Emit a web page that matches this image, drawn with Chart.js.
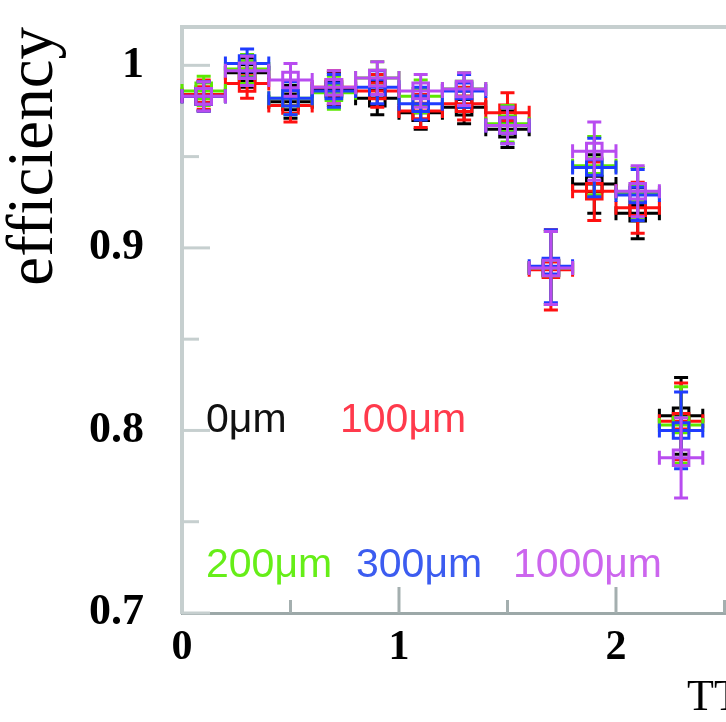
<!DOCTYPE html>
<html>
<head>
<meta charset="utf-8">
<title>efficiency</title>
<script src="https://cdn.jsdelivr.net/npm/chart.js@4.4.1/dist/chart.umd.min.js"></script>
<style>
  html, body { margin: 0; padding: 0; background: #fff; }
  #wrap { width: 726px; height: 722px; position: relative; overflow: hidden; }
</style>
</head>
<body>
<div id="wrap"><canvas id="effChart" width="726" height="722"></canvas></div>
<script>
// Bin centres and half widths
const binCenters = [0.1, 0.3, 0.5, 0.7, 0.9, 1.1, 1.3, 1.5, 1.7, 1.9, 2.1, 2.3];
const binHalfWidth = 0.1;

// Efficiency per offset
const eff0 =    [0.983, 0.996, 0.980, 0.987, 0.982, 0.974, 0.977, 0.965, 0.889, 0.935, 0.919, 0.808];
const eff100 =  [0.984, 0.990, 0.978, 0.988, 0.986, 0.975, 0.979, 0.974, 0.888, 0.931, 0.922, 0.805];
const eff200 =  [0.986, 0.998, 0.982, 0.985, 0.993, 0.983, 0.987, 0.968, 0.889, 0.945, 0.930, 0.803];
const eff300 =  [0.983, 1.001, 0.982, 0.986, 0.988, 0.979, 0.986, 0.967, 0.890, 0.944, 0.929, 0.800];
const eff1000 = [0.983, 0.997, 0.992, 0.988, 0.993, 0.986, 0.987, 0.967, 0.889, 0.953, 0.931, 0.785];

// Statistical errors
const err0 =    [0.008, 0.008, 0.009, 0.009, 0.009, 0.009, 0.009, 0.010, 0.020, 0.016, 0.014, 0.021];
const err100 =  [0.008, 0.008, 0.009, 0.009, 0.009, 0.009, 0.009, 0.011, 0.022, 0.016, 0.014, 0.021];
const err200 =  [0.008, 0.008, 0.009, 0.009, 0.009, 0.009, 0.009, 0.010, 0.020, 0.016, 0.014, 0.021];
const err300 =  [0.008, 0.008, 0.009, 0.009, 0.009, 0.009, 0.009, 0.010, 0.020, 0.016, 0.014, 0.021];
const err1000 = [0.008, 0.008, 0.009, 0.009, 0.009, 0.009, 0.009, 0.010, 0.020, 0.016, 0.014, 0.022];

const seriesLabels = ['0\u03bcm', '100\u03bcm', '200\u03bcm', '300\u03bcm', '1000\u03bcm'];
const seriesColors = ['#000000', '#ff1010', '#5ce800', '#1f3cff', '#b84cf0'];
const labelColors  = ['#111111', '#ff3a4c', '#66ee18', '#3c5cf0', '#cc66ee'];

// Axis ticks
const yMajorTicks = [0.7, 0.8, 0.9, 1.0];
const yMinorTicks = [0.75, 0.85, 0.95];
const xMajorTicks = [0, 1, 2];
const xMinorTicks = [0.5, 1.5, 2.5];

const allEff = [eff0, eff100, eff200, eff300, eff1000];
const allErr = [err0, err100, err200, err300, err1000];

const datasets = allEff.map((vals, s) => ({
  label: seriesLabels[s],
  data: binCenters.map((x, i) => ({ x: x, y: vals[i] })),
  errors: allErr[s],
  borderColor: seriesColors[s],
  backgroundColor: 'rgba(0,0,0,0)',
  pointStyle: 'rect',
  pointRadius: 11,
  pointBorderWidth: 3,
  showLine: false,
  order: 5 - s // black drawn first, violet last
}));

// x and y error bars with end caps, drawn under each dataset's markers
const errorBars = {
  id: 'errorBars',
  beforeDatasetDraw(chart, args) {
    const ds = chart.data.datasets[args.index];
    const xs = chart.scales.x, ys = chart.scales.y;
    const ctx = chart.ctx;
    const cap = 7;
    ctx.save();
    ctx.strokeStyle = ds.borderColor;
    ctx.lineWidth = 3;
    ds.data.forEach((p, i) => {
      const px = xs.getPixelForValue(p.x);
      const py = ys.getPixelForValue(p.y);
      const x0 = xs.getPixelForValue(p.x - binHalfWidth);
      const x1 = xs.getPixelForValue(p.x + binHalfWidth);
      const y0 = ys.getPixelForValue(p.y - ds.errors[i]);
      const y1 = ys.getPixelForValue(p.y + ds.errors[i]);
      ctx.beginPath();
      ctx.moveTo(x0, py); ctx.lineTo(x1, py);
      ctx.moveTo(x0, py - cap); ctx.lineTo(x0, py + cap);
      ctx.moveTo(x1, py - cap); ctx.lineTo(x1, py + cap);
      ctx.moveTo(px, y0); ctx.lineTo(px, y1);
      ctx.moveTo(px - cap, y0); ctx.lineTo(px + cap, y0);
      ctx.moveTo(px - cap, y1); ctx.lineTo(px + cap, y1);
      ctx.stroke();
    });
    ctx.restore();
  }
};

// Frame top line, inward tick marks, legend text and the x axis title
const decorations = {
  id: 'decorations',
  beforeDatasetsDraw(chart) {
    const { ctx, chartArea } = chart;
    const xs = chart.scales.x, ys = chart.scales.y;
    ctx.save();
    ctx.lineWidth = 4;
    ctx.strokeStyle = '#c6cfcf';
    ctx.beginPath();
    ctx.moveTo(chartArea.left - 2, chartArea.top);
    ctx.lineTo(chartArea.right, chartArea.top);
    ctx.stroke();

    ctx.lineWidth = 3;
    const yTick = (v, len) => {
      const py = ys.getPixelForValue(v);
      ctx.beginPath();
      ctx.moveTo(chartArea.left, py);
      ctx.lineTo(chartArea.left + len, py);
      ctx.stroke();
    };
    yMajorTicks.forEach(v => yTick(v, 28));
    yMinorTicks.forEach(v => yTick(v, 17));

    ctx.strokeStyle = '#a4afaf';
    const xTick = (v, len) => {
      const px = xs.getPixelForValue(v);
      ctx.beginPath();
      ctx.moveTo(px, chartArea.bottom);
      ctx.lineTo(px, chartArea.bottom - len);
      ctx.stroke();
    };
    xMajorTicks.filter(v => v > 0).forEach(v => xTick(v, 26));
    xMinorTicks.forEach(v => xTick(v, 13));
    ctx.restore();
  },
  afterDraw(chart) {
    const ctx = chart.ctx;
    ctx.save();
    ctx.font = '41px "Liberation Sans", Arial, sans-serif';
    ctx.textBaseline = 'alphabetic';
    ctx.textAlign = 'left';
    const spots = [[206, 432], [340, 432], [206, 577], [356, 577], [513, 577]];
    seriesLabels.forEach((t, s) => {
      ctx.fillStyle = labelColors[s];
      ctx.fillText(t, spots[s][0], spots[s][1]);
    });
    ctx.fillStyle = '#000';
    ctx.font = '44px "Liberation Serif", "Times New Roman", serif';
    ctx.fillText('TT', 687, 710);
    ctx.restore();
  }
};

const ctx = document.getElementById('effChart').getContext('2d');
const chart = new Chart(ctx, {
  type: 'scatter',
  data: { datasets: datasets },
  plugins: [errorBars, decorations],
  options: {
    responsive: false,
    animation: false,
    // markers may spill over the frame; no automatic room for them
    layout: { autoPadding: false, padding: { top: 27, right: 0, left: 0, bottom: 0 } },
    plugins: { legend: { display: false }, tooltip: { enabled: false } },
    scales: {
      x: {
        type: 'linear',
        min: 0,
        max: 2.507,
        afterFit: s => { s.height = 109; s.paddingLeft = 0; s.paddingRight = 0; },
        afterBuildTicks: s => { s.ticks = xMajorTicks.map(v => ({ value: v })); },
        grid: { display: false },
        border: { display: true, color: '#9ca8a8', width: 3 },
        ticks: {
          autoSkip: false,
          maxRotation: 0,
          padding: 2,
          color: '#000',
          font: { family: '"Liberation Serif", "Times New Roman", serif', size: 42, weight: 'bold' },
          callback: v => String(v)
        }
      },
      y: {
        type: 'linear',
        min: 0.7,
        max: 1.021,
        afterFit: s => { s.width = 182; s.paddingTop = 0; s.paddingBottom = 0; },
        afterBuildTicks: s => { s.ticks = yMajorTicks.map(v => ({ value: v })); },
        grid: { display: false },
        border: { display: true, color: '#c6cfcf', width: 4 },
        ticks: {
          padding: 30,
          color: '#000',
          font: { family: '"Liberation Serif", "Times New Roman", serif', size: 44, weight: 'bold' },
          callback: v => (v === 1 ? '1' : v.toFixed(1))
        },
        title: {
          display: true,
          text: 'efficiency',
          align: 'end',
          color: '#000',
          padding: { top: -4, bottom: 0 },
          font: { family: '"Liberation Serif", "Times New Roman", serif', size: 65 }
        }
      }
    }
  }
});
</script>
</body>
</html>
